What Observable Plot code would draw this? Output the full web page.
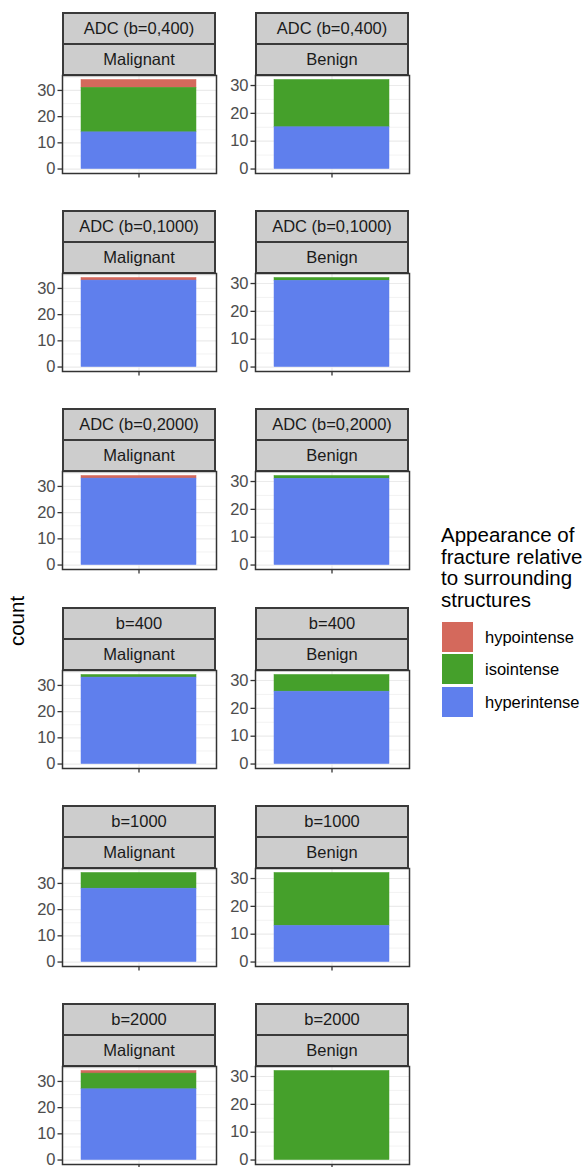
<!DOCTYPE html>
<html>
<head>
<meta charset="utf-8">
<script src="https://cdn.jsdelivr.net/npm/d3@7"></script>
<script src="https://cdn.jsdelivr.net/npm/@observablehq/plot@0.6"></script>
<style>
  html, body { margin: 0; padding: 0; background: #fff; }
  #root { position: relative; width: 587px; height: 1167px; overflow: hidden; font-family: "Liberation Sans", Arial, Helvetica, sans-serif; }
  .strip { position: absolute; box-sizing: border-box; border: 2px solid #3a3a3a; background: #cdcdcd; color: #1a1a1a; font-size: 16.5px; display: flex; align-items: center; justify-content: center; white-space: nowrap; }
  .abs { position: absolute; }
</style>
</head>
<body>
<div id="root"></div>
<script>
// ---- data ----
const methods = ["ADC (b=0,400)", "ADC (b=0,1000)", "ADC (b=0,2000)", "b=400", "b=1000", "b=2000"];
const groups = ["Malignant", "Benign"];
const categories = ["hypointense", "isointense", "hyperintense"];
const colors = ["#d4695c", "#45a02b", "#5f7fed"];
// counts per method: [Malignant, Benign]
const hypointense  = [[3, 0], [1, 0], [1, 0], [0, 0], [0, 0], [1, 0]];
const isointense   = [[17, 17], [0, 1], [0, 1], [1, 6], [6, 19], [6, 32]];
const hyperintense = [[14, 15], [33, 31], [33, 31], [33, 26], [28, 13], [27, 0]];
const yTicks = [0, 10, 20, 30];
const yMinor = [5, 15, 25, 35];
const legendTitle = ["Appearance of", "fracture relative", "to surrounding", "structures"];
const yLabel = "count";

// ---- layout ----
const root = document.getElementById("root");
const panelLefts = [62, 255];
const panelW = 154, panelH = 98;
const rowTop0 = 12, rowPitch = 198.2;
const mL = 44, mR = 2, mT = 2, mB = 10;
const series = {hypointense, isointense, hyperintense};

methods.forEach((m, r) => {
  const top = Math.round(rowTop0 + r * rowPitch);
  groups.forEach((g, c) => {
    const left = panelLefts[c];
    // strips
    const s1 = document.createElement("div");
    s1.className = "strip";
    Object.assign(s1.style, {left: left + "px", top: top + "px", width: panelW + "px", height: "33px"});
    s1.textContent = m;
    root.appendChild(s1);
    const s2 = document.createElement("div");
    s2.className = "strip";
    Object.assign(s2.style, {left: left + "px", top: (top + 31) + "px", width: panelW + "px", height: "33px"});
    s2.textContent = g;
    root.appendChild(s2);

    const rows = categories.map(cat => ({cat, count: series[cat][r][c]}));
    const total = d3.sum(rows, d => d.count);
    const panelTop = top + 63;
    const plot = Plot.plot({
      width: panelW + mL + mR,
      height: panelH + mT + mB,
      marginLeft: mL, marginRight: mR, marginTop: mT, marginBottom: mB,
      style: {fontFamily: '"Liberation Sans", Arial, Helvetica, sans-serif', background: "transparent", overflow: "visible"},
      x: {type: "band", domain: ["all"], paddingInner: 0.1, paddingOuter: 0.15, axis: null},
      y: {domain: [-0.05 * total, 1.05 * total], axis: null},
      color: {domain: categories, range: colors},
      marks: [
        Plot.gridY(yMinor.filter(v => v < 1.05 * total), {stroke: "#ebebeb", strokeOpacity: 1, strokeWidth: 0.6}),
        Plot.gridY(yTicks, {stroke: "#ebebeb", strokeOpacity: 1, strokeWidth: 1.2}),
        Plot.gridX(["all"], {stroke: "#ebebeb", strokeOpacity: 1, strokeWidth: 1.2}),
        Plot.barY(rows.filter(d => d.count > 0), {x: () => "all", y: "count", fill: "cat", stroke: "cat", strokeWidth: 0.5, order: ["hyperintense", "isointense", "hypointense"]}),
        Plot.frame({stroke: "#333", strokeWidth: 1.5}),
        Plot.axisY(yTicks, {tickSize: 4.5, tickPadding: 2.5, fontSize: 16.5, stroke: "#333", strokeWidth: 1.3, fill: "#4d4d4d", color: "#4d4d4d", label: null}),
        Plot.axisX(["all"], {tickSize: 4.5, tickFormat: () => "", stroke: "#333", strokeWidth: 1.3, label: null})
      ]
    });
    plot.classList.add("abs");
    Object.assign(plot.style, {left: (left - mL) + "px", top: (panelTop - mT) + "px"});
    root.appendChild(plot);
  });
});

// y axis title
const yl = document.createElement("div");
yl.className = "abs";
yl.textContent = yLabel;
Object.assign(yl.style, {left: "17px", top: "621px", transform: "translate(-50%,-50%) rotate(-90deg)", fontSize: "20.5px", color: "#000", whiteSpace: "nowrap"});
root.appendChild(yl);

// legend
const lt = document.createElement("div");
lt.className = "abs";
Object.assign(lt.style, {left: "441px", top: "524px", fontSize: "20.5px", lineHeight: "21.5px", color: "#000", whiteSpace: "nowrap"});
lt.innerHTML = legendTitle.join("<br>");
root.appendChild(lt);
categories.forEach((cat, i) => {
  const kTop = 621.5 + i * 32.6;
  const k = document.createElement("div");
  k.className = "abs";
  Object.assign(k.style, {left: "442px", top: kTop + "px", width: "31px", height: "30px", background: colors[i]});
  root.appendChild(k);
  const t = document.createElement("div");
  t.className = "abs";
  Object.assign(t.style, {left: "485px", top: kTop + "px", height: "30px", lineHeight: "30px", fontSize: "16.5px", color: "#000", whiteSpace: "nowrap"});
  t.textContent = cat;
  root.appendChild(t);
});
</script>
</body>
</html>
